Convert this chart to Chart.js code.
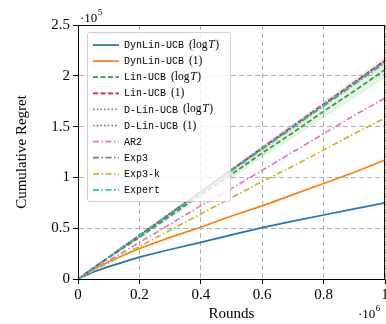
<!DOCTYPE html>
<html><head><meta charset="utf-8">
<script src="https://cdn.jsdelivr.net/npm/chart.js@4.4.0/dist/chart.umd.min.js"></script>
<style>html,body{margin:0;padding:0;background:#fff;}canvas{display:block;}</style>
</head><body>
<canvas id="c" width="386" height="324" style="width:386px;height:324px"></canvas>
<script>
// rounds in units of 1e6, regret in units of 1e5
const rounds = [0, 0.05, 0.1, 0.2, 0.3, 0.4, 0.5, 0.6, 0.7, 0.8, 0.9, 1.0];
const seriesNames = ['DynLin-UCB','DynLin-UCB','Lin-UCB','Lin-UCB','D-Lin-UCB','D-Lin-UCB','AR2','Exp3','Exp3-k','Expert'];
const seriesParams = ['logT','1','logT','1','logT','1','','','',''];
const dynLinLog  = [0, 0.07, 0.122, 0.215, 0.29, 0.36, 0.435, 0.505, 0.57, 0.63, 0.69, 0.75];
const dynLin1    = [0, 0.095, 0.17, 0.30, 0.41, 0.51, 0.62, 0.72, 0.83, 0.94, 1.05, 1.17];
const linLog     = [0, 0.105, 0.21, 0.41, 0.62, 0.83, 1.03, 1.24, 1.44, 1.65, 1.85, 2.06];
const lin1       = [0, 0.108, 0.215, 0.43, 0.645, 0.86, 1.075, 1.29, 1.505, 1.72, 1.935, 2.15];
const dLinLog    = [0, 0.107, 0.214, 0.428, 0.642, 0.856, 1.07, 1.284, 1.498, 1.712, 1.926, 2.14];
const dLin1      = [0, 0.108, 0.215, 0.43, 0.645, 0.86, 1.075, 1.29, 1.505, 1.72, 1.935, 2.15];
const ar2        = [0, 0.09, 0.18, 0.36, 0.54, 0.72, 0.89, 1.07, 1.25, 1.43, 1.61, 1.78];
const exp3       = [0, 0.107, 0.213, 0.426, 0.639, 0.852, 1.065, 1.278, 1.491, 1.704, 1.917, 2.13];
const exp3k      = [0, 0.08, 0.16, 0.32, 0.48, 0.64, 0.80, 0.96, 1.11, 1.27, 1.43, 1.585];
const expert     = [0, 0.107, 0.214, 0.428, 0.642, 0.856, 1.07, 1.284, 1.498, 1.712, 1.926, 2.14];
const linLogLow  = [0, 0.1, 0.20, 0.395, 0.595, 0.795, 0.99, 1.19, 1.385, 1.585, 1.78, 1.98];
const linLogHigh = [0, 0.11, 0.22, 0.425, 0.645, 0.865, 1.07, 1.29, 1.495, 1.715, 1.92, 2.14];
const lin1Low    = [0, 0.105, 0.21, 0.42, 0.63, 0.845, 1.055, 1.265, 1.475, 1.69, 1.9, 2.11];
const lin1High   = [0, 0.11, 0.22, 0.44, 0.66, 0.875, 1.095, 1.315, 1.535, 1.75, 1.97, 2.19];
const xTicks = [0, 0.2, 0.4, 0.6, 0.8, 1];
const yTicks = [0, 0.5, 1, 1.5, 2, 2.5];

const seriesValues = [dynLinLog, dynLin1, linLog, lin1, dLinLog, dLin1, ar2, exp3, exp3k, expert];
const colors = ['#1f77b4','#ff7f0e','#2ca02c','#d62728','#9467bd','#8c564b','#e377c2','#7f7f7f','#bcbd22','#17becf'];
const DASHED=[5,2.5], DOTTED=[1.5,2.2], DASHDOT=[6,2.5,1.5,2.5];
const dashes = [[],[],DASHED,DASHED,DOTTED,DOTTED,DASHDOT,DASHDOT,DASHDOT,DASHDOT];

const pts = arr => arr.map((v,i)=>({x:rounds[i], y:v}));
const datasets = [];
datasets.push({data:pts(linLogLow), borderWidth:0, pointRadius:0, fill:false, order:300});
datasets.push({data:pts(linLogHigh), borderWidth:0, pointRadius:0, fill:'-1', backgroundColor:'rgba(44,160,44,0.13)', order:299});
datasets.push({data:pts(lin1Low), borderWidth:0, pointRadius:0, fill:false, order:298});
datasets.push({data:pts(lin1High), borderWidth:0, pointRadius:0, fill:'-1', backgroundColor:'rgba(214,39,40,0.10)', order:297});
seriesValues.forEach((vals,i)=>{
  datasets.push({data:pts(vals), borderColor:colors[i], borderWidth:1.7, borderDash:dashes[i],
    pointRadius:0, fill:false, tension:0, order:100-i});
});

const SERIF = '"Liberation Serif", "DejaVu Serif", serif';
const MONO = '"Liberation Mono", "DejaVu Sans Mono", monospace';

const decor = {
  id:'decor',
  afterDraw(chart){
    const ctx = chart.ctx, a = chart.chartArea;
    ctx.save();
    ctx.strokeStyle = '#000'; ctx.lineWidth = 1; ctx.setLineDash([]);
    ctx.strokeRect(a.left+0.5, a.top+0.5, a.right-a.left-1, a.bottom-a.top);
    // legend
    const bx=87.5, by=32.5, bw=143, bh=169, r=2.5;
    ctx.beginPath();
    ctx.moveTo(bx+r,by); ctx.lineTo(bx+bw-r,by); ctx.arcTo(bx+bw,by,bx+bw,by+r,r);
    ctx.lineTo(bx+bw,by+bh-r); ctx.arcTo(bx+bw,by+bh,bx+bw-r,by+bh,r);
    ctx.lineTo(bx+r,by+bh); ctx.arcTo(bx,by+bh,bx,by+bh-r,r);
    ctx.lineTo(bx,by+r); ctx.arcTo(bx,by,bx+r,by,r); ctx.closePath();
    ctx.fillStyle='rgba(255,255,255,0.8)'; ctx.fill();
    ctx.strokeStyle='rgba(204,204,204,0.9)'; ctx.stroke();
    for(let i=0;i<seriesNames.length;i++){
      const y = 45 + i*16.1;
      ctx.beginPath(); ctx.setLineDash(dashes[i]); ctx.strokeStyle=colors[i]; ctx.lineWidth=1.7;
      ctx.moveTo(93,y); ctx.lineTo(119,y); ctx.stroke();
      ctx.setLineDash([]);
      ctx.fillStyle='#000'; ctx.textBaseline='middle'; ctx.textAlign='left';
      ctx.font = '10px '+MONO;
      ctx.fillText(seriesNames[i],124,y+0.5);
      let x = 124 + ctx.measureText(seriesNames[i]).width + 5;
      const p = seriesParams[i];
      if(p==='logT'){
        ctx.font='11.5px '+SERIF; ctx.fillText('(log',x,y); x+=ctx.measureText('(log').width+0.8;
        ctx.font='italic 11.5px '+SERIF; ctx.fillText('T',x,y); x+=ctx.measureText('T').width+0.5;
        ctx.font='11.5px '+SERIF; ctx.fillText(')',x,y);
      } else if(p==='1'){
        ctx.font='11.5px '+SERIF; ctx.fillText('(1)',x,y);
      }
    }
    ctx.fillStyle='#000'; ctx.textBaseline='alphabetic'; ctx.textAlign='left';
    ctx.font='13px '+SERIF; ctx.fillText('\u00b710',80,22);
    let w = ctx.measureText('\u00b710').width;
    ctx.font='9px '+SERIF; ctx.fillText('5',80+w+0.5,15);
    ctx.font='13px '+SERIF; ctx.fillText('\u00b710',358,318);
    w = ctx.measureText('\u00b710').width;
    ctx.font='9px '+SERIF; ctx.fillText('6',358+w+0.5,311);
    ctx.restore();
  }
};

new Chart(document.getElementById('c'), {
  type:'line',
  data:{datasets},
  options:{
    responsive:false, animation:false, devicePixelRatio:1,
    layout:{padding:{left:0,right:1,top:25,bottom:0}},
    plugins:{legend:{display:false}, tooltip:{enabled:false}},
    scales:{
      x:{type:'linear', min:0, max:1,
        afterBuildTicks(s){ s.ticks = xTicks.map(v=>({value:v})); },
        afterFit(s){ s.height = 45; s.paddingLeft = 0; s.paddingRight = 0; },
        ticks:{font:{family:SERIF,size:15}, color:'#000', padding:2, maxRotation:0,
          callback:v=>String(v)},
        grid:{color:'#b0b0b0', tickColor:'#000', tickLength:5, tickBorderDash:[], tickWidth:1, lineWidth:1},
        border:{display:true, color:'#000', width:1, dash:[5,3]},
        title:{display:true, text:'Rounds', font:{family:SERIF,size:15}, color:'#000', padding:{top:0,bottom:1}}
      },
      y:{type:'linear', min:0, max:2.5,
        afterBuildTicks(s){ s.ticks = yTicks.map(v=>({value:v})); },
        afterFit(s){ s.width = 78; s.paddingTop = 0; s.paddingBottom = 0; },
        ticks:{font:{family:SERIF,size:15}, color:'#000', padding:3, callback:v=>String(v)},
        grid:{color:'#b0b0b0', tickColor:'#000', tickLength:5, tickBorderDash:[], tickWidth:1, lineWidth:1},
        border:{display:true, color:'#000', width:1, dash:[5,3]},
        title:{display:true, text:'Cumulative Regret', font:{family:SERIF,size:15}, color:'#000', padding:{top:13,bottom:0}}
      }
    }
  },
  plugins:[decor]
});
</script>
</body></html>
